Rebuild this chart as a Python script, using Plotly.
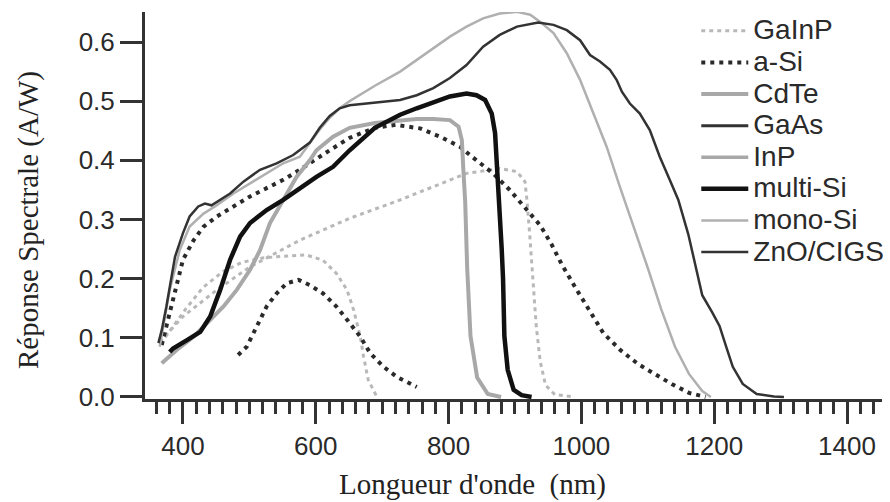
import plotly.graph_objects as go

# ---------------- data ----------------
gainp_a_nm  = [366, 385, 405, 430, 460, 490, 520, 551, 586, 611, 631, 647, 657, 667, 672, 679, 692]
gainp_a_val = [0.090, 0.120, 0.150, 0.185, 0.212, 0.228, 0.235, 0.238, 0.240, 0.231, 0.209, 0.181, 0.147, 0.102, 0.068, 0.029, 0.0]
gainp_b_nm  = [365, 400, 451, 501, 576, 651, 727, 777, 827, 877, 903, 915, 918, 922, 927, 932, 938, 946, 960, 990]
gainp_b_val = [0.093, 0.136, 0.181, 0.220, 0.265, 0.302, 0.333, 0.355, 0.378, 0.386, 0.381, 0.364, 0.333, 0.277, 0.200, 0.120, 0.060, 0.020, 0.004, 0.0]

asi_a_nm  = [483, 496, 511, 526, 541, 556, 574, 591, 611, 631, 651, 667, 682, 702, 722, 737, 752]
asi_a_val = [0.071, 0.085, 0.119, 0.153, 0.175, 0.192, 0.198, 0.189, 0.175, 0.153, 0.125, 0.102, 0.074, 0.051, 0.034, 0.026, 0.017]
asi_b_nm  = [368, 388, 400, 416, 431, 451, 476, 501, 526, 551, 576, 601, 621, 651, 689, 720, 757, 787, 817, 842,
             867, 892, 918, 938, 955, 971, 992, 1013, 1033, 1059, 1085, 1110, 1136, 1162, 1187]
asi_b_val = [0.088, 0.181, 0.232, 0.265, 0.288, 0.305, 0.322, 0.339, 0.353, 0.367, 0.384, 0.403, 0.417, 0.438, 0.455, 0.460, 0.454, 0.440, 0.423, 0.400,
             0.378, 0.350, 0.316, 0.290, 0.258, 0.223, 0.183, 0.143, 0.108, 0.079, 0.056, 0.039, 0.022, 0.007, 0.0]

cdte_nm  = [368, 390, 416, 441, 461, 481, 501, 516, 531, 551, 571, 591, 601, 626, 651, 689, 727, 752, 777, 802,
            815, 820, 822, 825, 828, 833, 843, 859, 879]
cdte_val = [0.057, 0.079, 0.102, 0.130, 0.153, 0.181, 0.215, 0.248, 0.294, 0.333, 0.372, 0.400, 0.417, 0.440, 0.455, 0.463, 0.468, 0.470, 0.470, 0.468,
            0.457, 0.434, 0.389, 0.330, 0.218, 0.103, 0.033, 0.005, 0.0]

# no separate curve can be read for these two legend entries
gaas_nm, gaas_val = [None], [None]
inp_nm, inp_val = [None], [None]

multisi_nm  = [380, 385, 406, 426, 441, 456, 471, 486, 501, 526, 551, 576, 601, 626, 651, 689, 727, 752, 777, 802,
               827, 842, 855, 865, 870, 873, 877, 880, 882, 884, 889, 898, 910, 925]
multisi_val = [0.076, 0.082, 0.096, 0.110, 0.136, 0.181, 0.232, 0.271, 0.294, 0.316, 0.333, 0.353, 0.372, 0.389, 0.417, 0.455, 0.477, 0.488, 0.499, 0.508,
               0.513, 0.510, 0.502, 0.479, 0.446, 0.389, 0.333, 0.250, 0.200, 0.103, 0.046, 0.012, 0.003, 0.0]

monosi_nm  = [365, 380, 395, 410, 431, 451, 476, 501, 526, 551, 576, 591, 606, 621, 636, 651, 689, 727, 752, 777,
              802, 827, 852, 877, 903, 923, 938, 958, 978, 998, 1018, 1038, 1058, 1079, 1100, 1120, 1141, 1162, 1182, 1195]
monosi_val = [0.085, 0.181, 0.248, 0.288, 0.310, 0.324, 0.344, 0.361, 0.378, 0.395, 0.406, 0.430, 0.452, 0.472, 0.488, 0.500, 0.526, 0.550, 0.570, 0.589,
              0.609, 0.626, 0.640, 0.648, 0.651, 0.646, 0.634, 0.615, 0.581, 0.536, 0.479, 0.423, 0.355, 0.287, 0.218, 0.149, 0.085, 0.039, 0.010, 0.0]

cigs_nm  = [363, 368, 375, 388, 400, 410, 423, 433, 443, 456, 471, 491, 516, 541, 566, 591, 606, 621, 636, 651,
            689, 727, 752, 777, 802, 827, 852, 877, 903, 935, 958, 978, 998, 1013, 1028, 1043, 1053, 1061, 1073, 1088,
            1103, 1118, 1133, 1146, 1161, 1172, 1182, 1197, 1208, 1218, 1228, 1243, 1264, 1290, 1305]
cigs_val = [0.091, 0.113, 0.153, 0.237, 0.277, 0.305, 0.322, 0.327, 0.324, 0.333, 0.344, 0.364, 0.384, 0.395, 0.409, 0.430, 0.455, 0.475, 0.488, 0.493,
            0.498, 0.502, 0.510, 0.522, 0.539, 0.561, 0.592, 0.612, 0.626, 0.633, 0.629, 0.620, 0.603, 0.578, 0.567, 0.553, 0.536, 0.516, 0.496, 0.479,
            0.451, 0.406, 0.367, 0.333, 0.275, 0.218, 0.172, 0.143, 0.120, 0.085, 0.051, 0.022, 0.005, 0.001, 0.0]

x_ticks = [400, 600, 800, 1000, 1200, 1400]
y_ticks = [0.0, 0.1, 0.2, 0.3, 0.4, 0.5, 0.6]
y_tick_labels = ["0.0", "0.1", "0.2", "0.3", "0.4", "0.5", "0.6"]

x_title = "Longueur d'onde  (nm)"
y_title = "Réponse Spectrale (A/W)"

# ---------------- figure ----------------
def join(a, b):
    return a + [None] + b

def lg(name):
    # legend labels are drawn a little larger than the row spacing font
    return "<span style='font-size:28px'>" + name + "</span>"

fig = go.Figure()
fig.add_trace(go.Scatter(x=join(gainp_a_nm, gainp_b_nm), y=join(gainp_a_val, gainp_b_val), name=lg("GaInP"),
                         mode="lines", line=dict(color="#b8b8b8", width=3, dash="4px,4px")))
fig.add_trace(go.Scatter(x=join(asi_a_nm, asi_b_nm), y=join(asi_a_val, asi_b_val), name=lg("a-Si"),
                         mode="lines", line=dict(color="#2a2a2a", width=4, dash="4px,5px")))
fig.add_trace(go.Scatter(x=cdte_nm, y=cdte_val, name=lg("CdTe"), mode="lines",
                         line=dict(color="#a8a8a8", width=4)))
fig.add_trace(go.Scatter(x=gaas_nm, y=gaas_val, name=lg("GaAs"), mode="lines",
                         line=dict(color="#333333", width=3)))
fig.add_trace(go.Scatter(x=inp_nm, y=inp_val, name=lg("InP"), mode="lines",
                         line=dict(color="#a8a8a8", width=3.5)))
fig.add_trace(go.Scatter(x=multisi_nm, y=multisi_val, name=lg("multi-Si"), mode="lines",
                         line=dict(color="#111111", width=4.5)))
fig.add_trace(go.Scatter(x=monosi_nm, y=monosi_val, name=lg("mono-Si"), mode="lines",
                         line=dict(color="#b0b0b0", width=2.5)))
fig.add_trace(go.Scatter(x=cigs_nm, y=cigs_val, name=lg("ZnO/CIGS"), mode="lines",
                         line=dict(color="#333333", width=2.5)))

axis_font = dict(family="Liberation Sans, Arial, sans-serif", size=26, color="#2a2a2a")

fig.update_layout(
    width=890, height=502,
    margin=dict(l=145, r=8, t=12, b=103, autoexpand=False),
    paper_bgcolor="white", plot_bgcolor="white",
    showlegend=True,
    legend=dict(x=0.748, y=1.005, xanchor="left", yanchor="top",
                bgcolor="rgba(0,0,0,0)", borderwidth=0, itemwidth=47,
                tracegroupgap=0, maxheight=480,
                font=dict(family="Liberation Sans, Arial, sans-serif", size=22, color="#2a2a2a")),
    xaxis=dict(range=[342.8, 1452.7], tickmode="array", tickvals=x_ticks,
               ticktext=[str(v) for v in x_ticks],
               ticks="outside", ticklen=22, tickwidth=3, tickcolor="#333333",
               showline=True, linewidth=3, linecolor="#333333", mirror=False,
               showgrid=False, zeroline=False, tickfont=axis_font, automargin=False,
               minor=dict(ticks="outside", ticklen=12, tickwidth=2.5, tickcolor="#333333",
                          dtick=20, tick0=0, showgrid=False)),
    yaxis=dict(range=[-0.0034, 0.6507], tickmode="array", tickvals=y_ticks, ticktext=y_tick_labels,
               ticks="outside", ticklen=22, tickwidth=3, tickcolor="#333333",
               showline=True, linewidth=3, linecolor="#333333", automargin=False,
               showgrid=False, zeroline=False, tickfont=axis_font),
    annotations=[
        dict(text=x_title, xref="paper", yref="paper", x=0.4437, y=-0.222,
             xanchor="center", yanchor="middle", showarrow=False,
             font=dict(family="Liberation Serif, Times New Roman, serif", size=29, color="#222222")),
        dict(text=y_title, xref="paper", yref="paper", x=-0.1588, y=0.4625,
             xanchor="center", yanchor="middle", showarrow=False, textangle=-90,
             font=dict(family="Liberation Serif, Times New Roman, serif", size=29, color="#222222")),
    ],
)

fig.write_html("out.html")
